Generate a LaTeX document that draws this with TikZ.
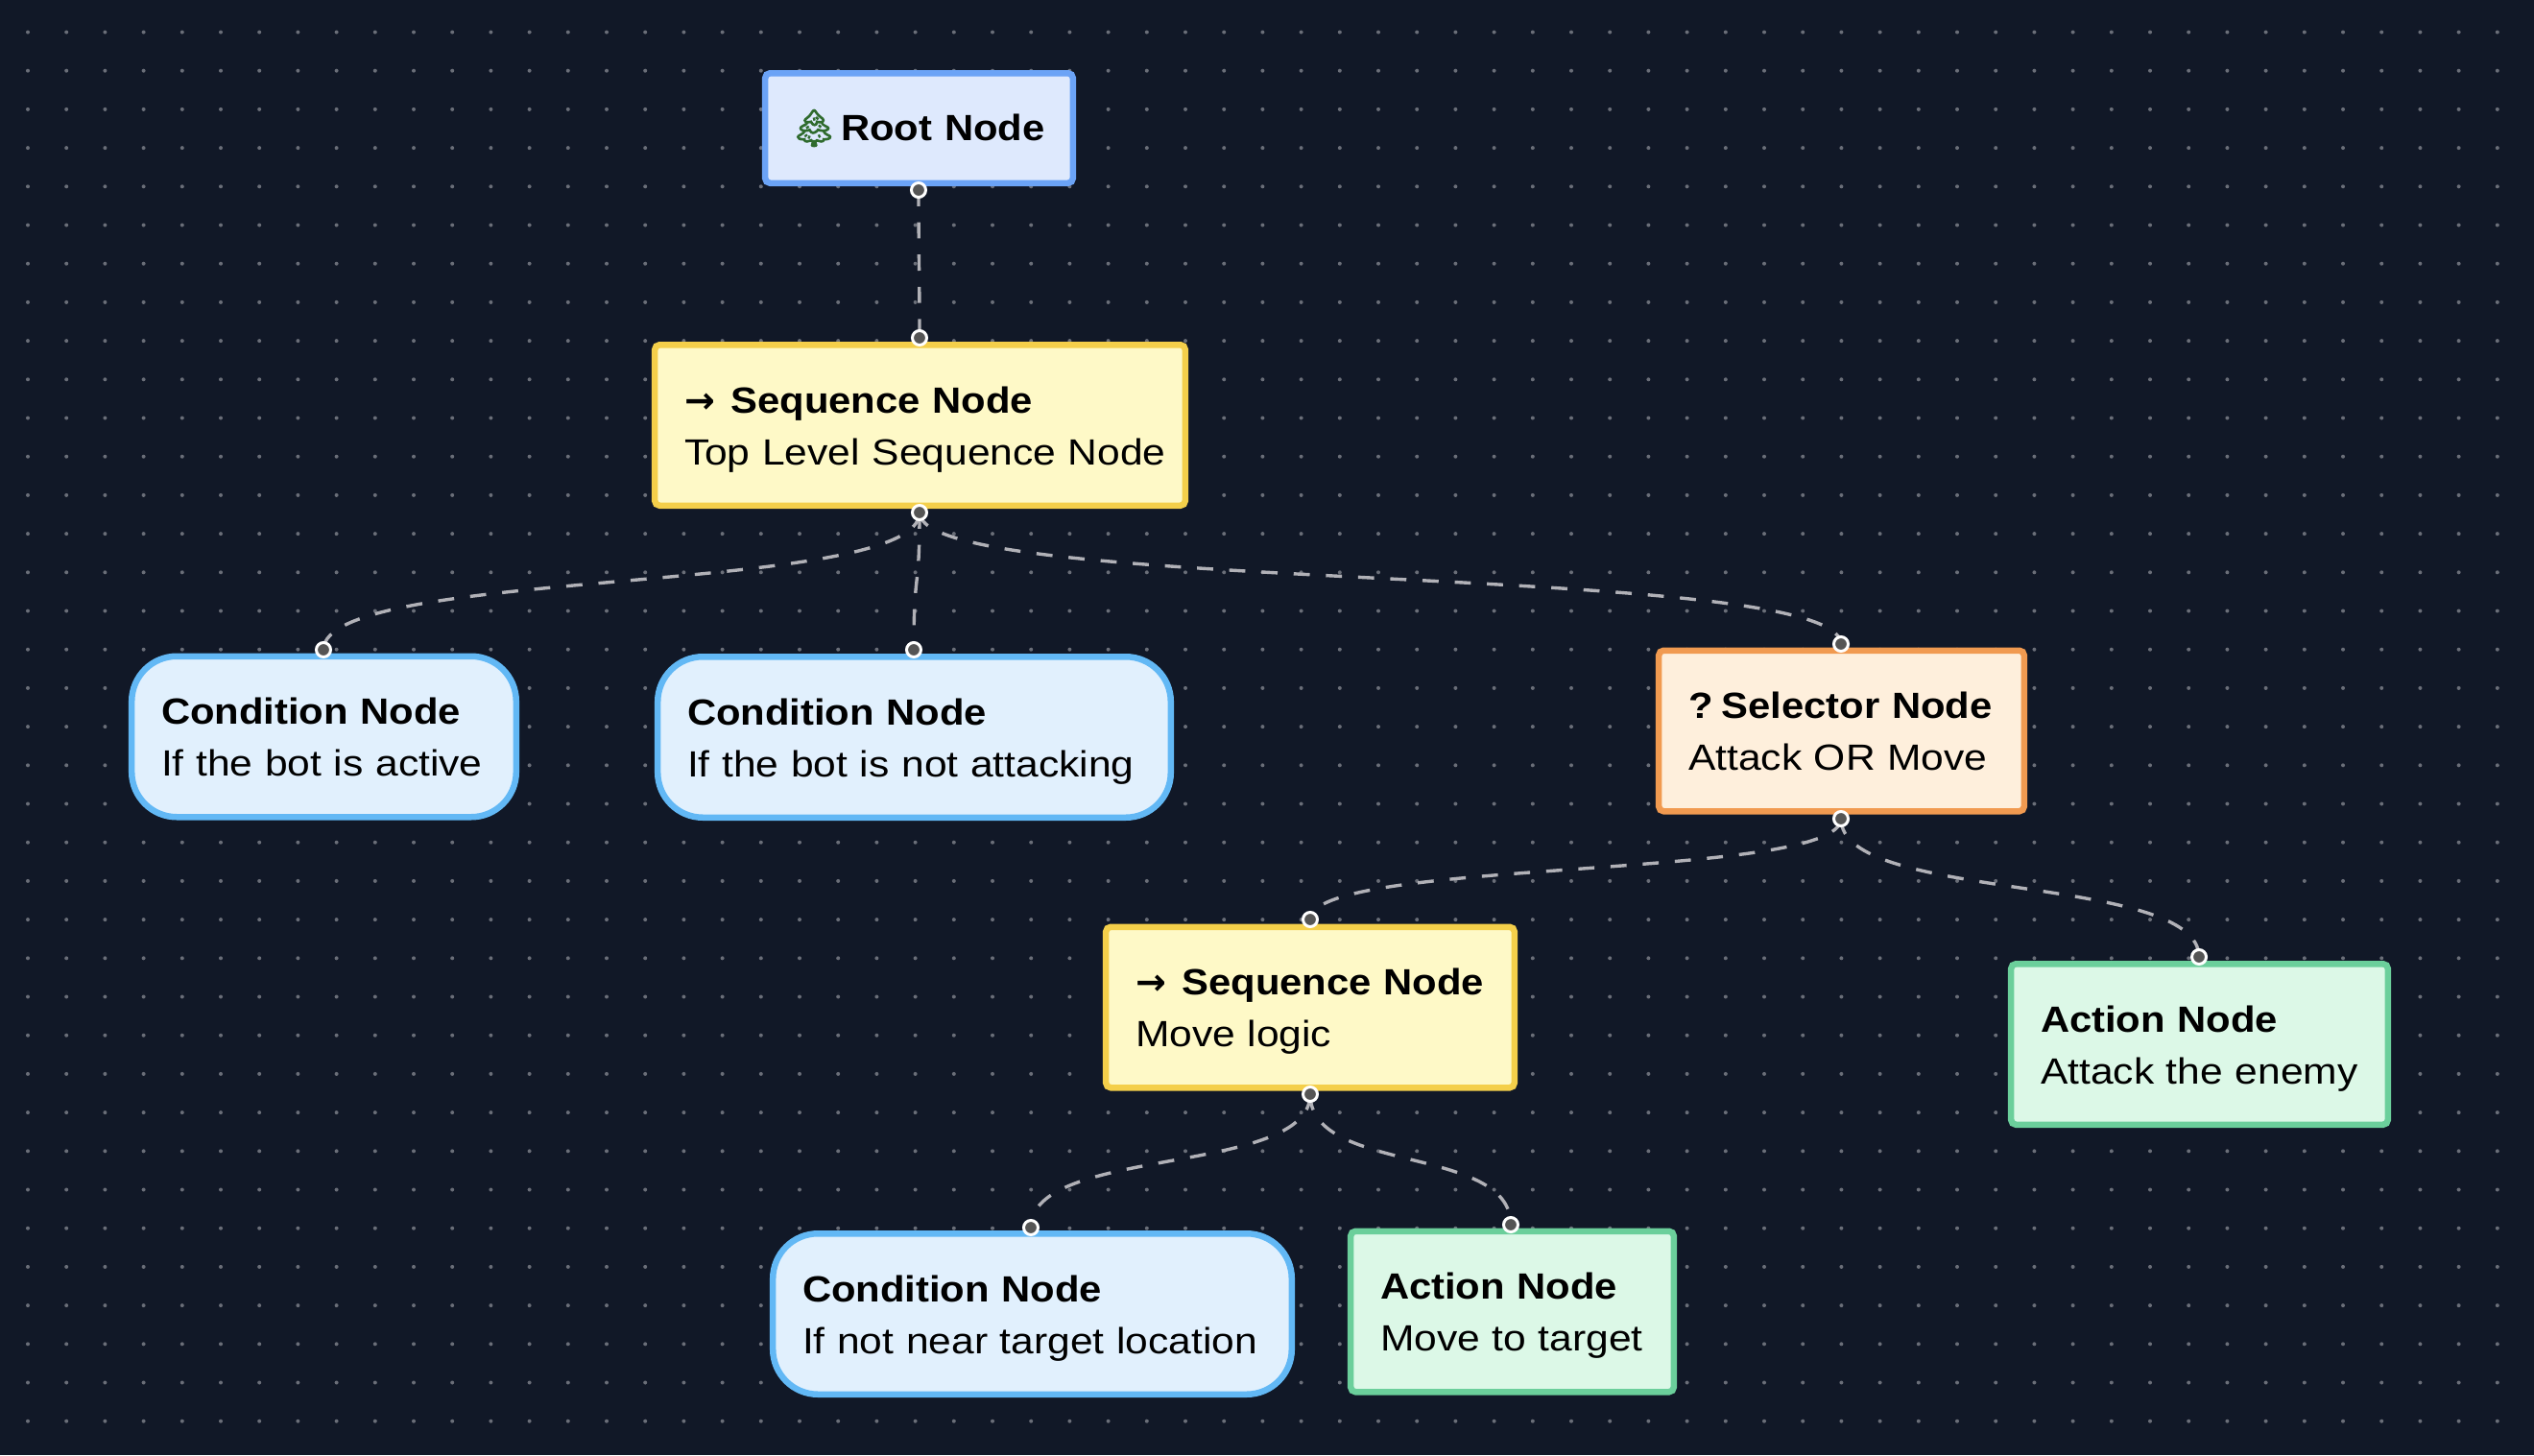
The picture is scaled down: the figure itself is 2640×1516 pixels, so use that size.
\documentclass[tikz,border=0pt]{standalone}
\usepackage{fontspec}
\setmainfont{Liberation Sans}[FakeStretch=1.12,BoldFeatures={FakeStretch=1.1}]
\newfontfamily\emojifont{Noto Emoji}[FakeBold=3]
\newfontfamily\arrowfont{DejaVu Sans Bold}
\newcommand{\boxtext}[2]{\mbox{\rule{0pt}{14.4pt}\textbf{#1}}\\\smash{#2}}
\definecolor{pagebg}{HTML}{111827}
\definecolor{griddot}{HTML}{6A6E78}
\definecolor{linkgray}{HTML}{B1B1B7}
\definecolor{handlegray}{HTML}{555555}
\definecolor{treegreen}{HTML}{2F6B2E}
\tikzset{
  basebox/.style={draw, line width=3.25pt, inner xsep=15.4pt, inner ysep=0pt, outer sep=0pt,
    align=left, minimum height=83.75pt, rounded corners=2.5pt,
    font=\fontsize{19}{27}\selectfont, text=black},
  rootbox/.style={basebox, draw=rootline, fill=rootfill, minimum height=57.25pt},
  seqbox/.style={basebox, draw=seqline, fill=seqfill},
  selbox/.style={basebox, draw=selline, fill=selfill},
  condbox/.style={basebox, draw=condline, fill=condfill, rounded corners=23.5pt},
  actbox/.style={basebox, draw=actline, fill=actfill},
  link/.style={draw=linkgray, line width=1.7pt, dash pattern=on 8.4pt off 8.4pt},
  hdl/.style={circle, draw=white, fill=handlegray, line width=1.5pt, minimum size=7.5pt, inner sep=0pt}
}
\definecolor{rootline}{HTML}{6BA3F6}
\definecolor{rootfill}{HTML}{DEE9FD}
\definecolor{seqline}{HTML}{F4CF4A}
\definecolor{seqfill}{HTML}{FEF9C7}
\definecolor{selline}{HTML}{F19A50}
\definecolor{selfill}{HTML}{FEEFDC}
\definecolor{condline}{HTML}{62B8F5}
\definecolor{condfill}{HTML}{E1F0FD}
\definecolor{actline}{HTML}{6BCF9B}
\definecolor{actfill}{HTML}{DCF8E7}
\begin{document}
\begin{tikzpicture}[x=0.5pt,y=-0.5pt]
    \useasboundingbox (0,0) rectangle (2640,1516);
    \fill[pagebg] (0,0) rectangle (2640,1516);
    \foreach \i in {0,...,65} \foreach \j in {0,...,36}
        \fill[griddot] (29+\i*40.2, 33.5+\j*40.2) circle (1pt);

    % Handles
    \coordinate (rootout) at (957,198); \coordinate (seqain) at (958,352); \coordinate (seqaout) at (958,534);
    \coordinate (condain) at (337,677); \coordinate (condbin) at (952,677); \coordinate (selin) at (1918,671);
    \coordinate (selout) at (1918,853); \coordinate (seqbin) at (1365,958); \coordinate (actain) at (2291,997);
    \coordinate (seqbout) at (1365,1140); \coordinate (condcin) at (1074,1279); \coordinate (actbin) at (1574,1276);

    \draw[link] (rootout) .. controls +(0,60) and +(0,-60) .. (seqain);
    \draw[link] (seqaout) .. controls +(0,88) and +(0,-88) .. (condain);
    \draw[link] (seqaout) .. controls +(0,88) and +(0,-88) .. (condbin);
    \draw[link] (seqaout) .. controls +(0,88) and +(0,-88) .. (selin);
    \draw[link] (selout) .. controls +(0,65) and +(0,-65) .. (seqbin);
    \draw[link] (selout) .. controls +(0,88) and +(0,-88) .. (actain);
    \draw[link] (seqbout) .. controls +(0,86) and +(0,-86) .. (condcin);
    \draw[link] (seqbout) .. controls +(0,84) and +(0,-84) .. (actbin);

    \node[rootbox, text width=129.5pt] (root) at (957.5,133.5)
        {\mbox{\rule{0pt}{14.4pt}\kern-2pt{\emojifont\color{treegreen}🌲}\kern2pt\textbf{Root Node}}};
    \node[seqbox, text width=245.5pt] (seqa) at (958.5,443) {\boxtext{{\arrowfont →} \kern2pt Sequence Node}{Top Level Sequence Node}};
    \node[condbox, text width=169.5pt] (conda) at (337.5,767.5) {\boxtext{Condition Node}{If the bot is active}};
    \node[condbox, text width=236.5pt] (condb) at (952.5,768) {\boxtext{Condition Node}{If the bot is not attacking}};
    \node[selbox, text width=159.5pt] (sel) at (1918.5,761.5) {\boxtext{? \kern-5pt Selector Node}{Attack OR Move}};
    \node[actbox, text width=165.5pt] (acta) at (2291.5,1088) {\boxtext{Action Node}{Attack the enemy}};
    \node[seqbox, text width=182pt] (seqb) at (1365,1049.5) {\boxtext{{\arrowfont →} \kern2pt Sequence Node}{Move logic}};
    \node[condbox, text width=239.5pt] (condc) at (1075.5,1369) {\boxtext{Condition Node}{If not near target location}};
    \node[actbox, text width=137.5pt] (actb) at (1575.5,1366.5) {\boxtext{Action Node}{Move to target}};

    \foreach \h in {rootout,seqain,seqaout,condain,condbin,selin,selout,seqbin,actain,seqbout,condcin,actbin}
        \node[hdl] (\h-dot) at (\h) {};
\end{tikzpicture}
\end{document}
